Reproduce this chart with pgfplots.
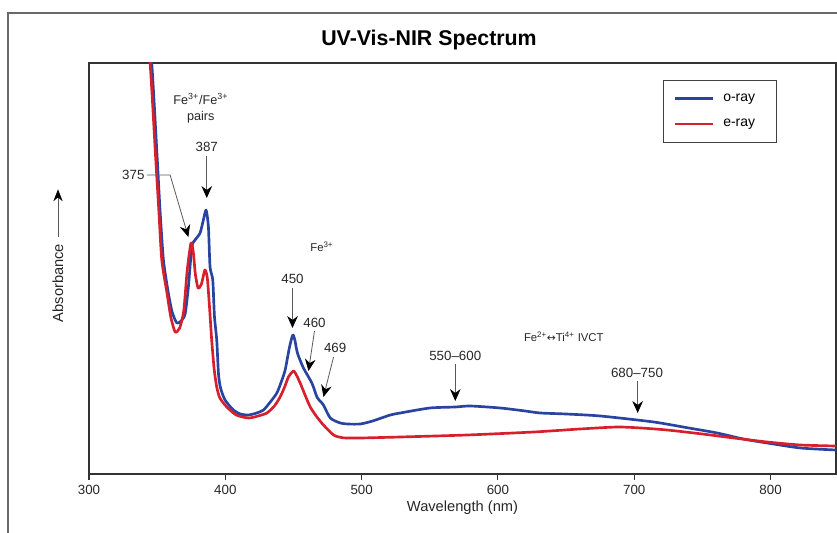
\documentclass[border=0pt]{standalone}
\usepackage{pgfplots}
\pgfplotsset{compat=1.18}
\usetikzlibrary{arrows.meta}
\usepackage{fontspec}
\setmainfont{Liberation Sans}
\newfontfamily\symfont{DejaVu Sans}
\definecolor{oray}{RGB}{40,68,160}
\definecolor{eray}{RGB}{216,32,44}
\definecolor{framegray}{RGB}{105,105,105}
\tikzset{
    annot/.style={draw=black!65, line width=0.6pt, -{Stealth[length=9pt,width=8pt,inset=3pt,color=black]}},
    lbl/.style={font=\fontsize{10}{12}\selectfont, text=black!85},
    small/.style={font=\fontsize{8.5}{10}\selectfont, text=black!85},
}
\begin{document}
\begin{tikzpicture}
\path[use as bounding box] (0,0) rectangle (627.75pt,399pt);
\clip (0,0) rectangle (627.75pt,399pt);
% outer frame (cropped at right and bottom)
\draw[framegray, line width=1.5pt] (6pt,-5pt) -- (6pt,389.25pt) -- (640pt,389.25pt);
\node[font=\bfseries\fontsize{16}{19}\selectfont] at (321.75pt,369pt) {UV-Vis-NIR Spectrum};
% y label with arrow
\node[rotate=90, font=\fontsize{11}{13}\selectfont, text=black!85] at (43.5pt,186.75pt) {Absorbance};
\draw[black!65, line width=0.7pt, -{Stealth[length=9pt,width=7pt,inset=3pt,color=black]}] (43.5pt,221pt) -- (43.5pt,257pt);
\begin{axis}[
    at={(66.75pt,43.5pt)}, anchor=south west,
    width=560.25pt, height=308.25pt, scale only axis,
    xmin=300, xmax=848, ymin=0, ymax=411,
    xtick={300,400,...,800}, ytick=\empty,
    xtick pos=left, tick align=outside, major tick length=4.5pt,
    axis line style={draw=black!80, line width=1pt},
    tick style={black!80, line width=0.8pt},
    ticklabel style={font=\fontsize{10}{12}\selectfont, text=black!85},
    /pgf/number format/assume math mode=true,
    xlabel={Wavelength (nm)},
    xlabel style={font=\fontsize{11}{13}\selectfont, text=black!85, yshift=2pt},
    legend style={at={(0.921,0.959)}, anchor=north east, draw=black!75, line width=0.6pt,
        font=\fontsize{10.5}{12}\selectfont, inner xsep=8pt, inner ysep=8pt, row sep=8pt,
        cells={anchor=west}},
    legend image code/.code={\draw[#1, line width=2pt] (0pt,0pt) -- (28pt,0pt); \path (33pt,0pt);},
]
\addplot[oray, line width=2pt, line join=round, smooth, tension=0.4] coordinates {
(342,450) (346,411) (350.1,314) (352.1,264) (354.6,214) (358.2,181) (361,162)
(364.4,151) (367.5,153) (370.5,160) (372.9,187) (375.4,227) (377.8,234) (381.5,241)
(383.9,254) (385.9,264) (387.6,247) (388.8,207) (390.8,194) (392,158) (393.7,134)
(395,100) (396.5,86) (399.8,74) (405.9,64) (411,60) (417,59) (423,61) (428,64)
(433,72) (437.8,81) (441,92) (443.9,104) (447.1,127) (449.5,139) (451,134)
(452.9,121) (457.3,106) (463.5,91) (467.2,77) (469.5,73) (472,69) (477,56)
(484.3,51) (490,50) (499,50) (508,53) (521,59) (528.3,61) (550,66) (568.7,67)
(579.7,68) (601.8,66) (620,63) (631.1,61) (650,60) (675.2,58) (714.3,52) (740,46)
(760.9,41) (780,35) (797.5,31) (822,26) (848,24)
};
\addlegendentry{\makebox[30pt][l]{o-ray}}
\addplot[eray, line width=2pt, line join=round, smooth, tension=0.4] coordinates {
(341,450) (344.8,411) (349,314) (351.2,264) (353.4,214) (357.2,181) (360,157)
(363.2,142) (366.5,146) (369.5,163) (372,203) (374.8,231) (376.5,222) (378,200)
(380,186) (382.5,190) (385,204) (386.8,196) (388.5,165) (390,134) (391.8,105)
(393.7,87) (396,76) (401.1,67) (408,59) (417,56) (424,58) (430.5,61) (436,68)
(440.2,77) (443.5,87) (446.3,97) (450,103) (452.5,98) (454.9,91) (458.5,79)
(462.3,67) (467.2,57) (472,49) (479.4,39) (485,36.5) (489.2,36) (499,36)
(528.3,37) (577.3,39) (626.2,42) (660,45) (687.4,47) (705,46) (724.1,44)
(750,40) (773.1,36) (797.5,32) (822,29) (848,28)
};
\addlegendentry{\makebox[30pt][l]{e-ray}}
% annotations
\node[font=\fontsize{9.5}{12}\selectfont, text=black!85, align=center] at (axis cs:382,366)
    {Fe\textsuperscript{3+}/Fe\textsuperscript{3+}\\pairs};
\node[lbl] at (axis cs:386.4,327) {387};
\draw[annot] (axis cs:386.4,318) -- (axis cs:386.4,276);
\node[lbl] at (axis cs:332.5,299) {375};
\draw[annot] (axis cs:342.5,299) -- (axis cs:359.5,299) -- (axis cs:372.9,237);
\node[small] at (axis cs:470.8,227) {Fe\textsuperscript{3+}};
\node[lbl] at (axis cs:449.3,195) {450};
\draw[annot] (axis cs:449.3,186) -- (axis cs:449.3,146);
\node[lbl] at (axis cs:465.4,151) {460};
\draw[annot] (axis cs:465.4,143) -- (axis cs:461,103);
\node[lbl] at (axis cs:480.6,126) {469};
\draw[annot] (axis cs:479.4,117) -- (axis cs:472,77);
\node[small] at (axis cs:648.3,137) {Fe\textsuperscript{2+}{\symfont\fontsize{8}{10}\selectfont ↔}Ti\textsuperscript{4+} IVCT};
\node[lbl] at (axis cs:568.7,118) {550--600};
\draw[annot] (axis cs:568.7,110) -- (axis cs:568.7,73);
\node[lbl] at (axis cs:702,101) {680--750};
\draw[annot] (axis cs:702.5,93) -- (axis cs:702.5,61);
\end{axis}
\end{tikzpicture}
\end{document}
